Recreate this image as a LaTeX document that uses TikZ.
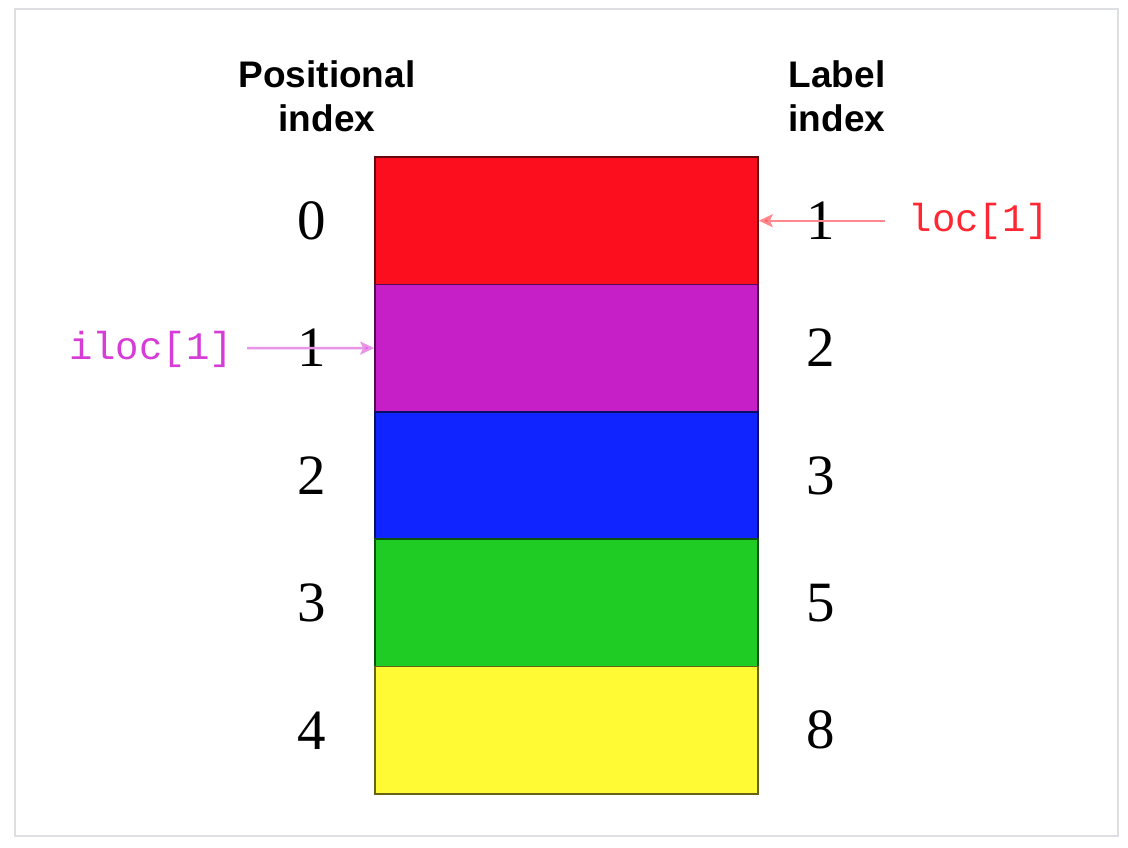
\documentclass[tikz,border=0pt]{standalone}
\usepackage{fontspec}
\setmainfont{Liberation Serif}
\setsansfont{Liberation Sans}
\setmonofont{Liberation Mono}
\usepackage{tikz}
\usetikzlibrary{positioning,arrows.meta}

\definecolor{cellred}{RGB}{252,14,30}
\definecolor{cellmagenta}{RGB}{199,31,199}
\definecolor{cellblue}{RGB}{15,36,255}
\definecolor{cellgreen}{RGB}{31,204,35}
\definecolor{cellyellow}{RGB}{255,250,51}
\definecolor{locred}{RGB}{255,40,50}
\definecolor{ilocmagenta}{RGB}{214,60,214}
\definecolor{framegray}{RGB}{221,223,226}

\begin{document}
\begin{tikzpicture}[
		x=1pt,y=-1pt,
		cell/.style={
		  draw=#1!40!black,
		  fill=#1,
		  line width=1.6pt,
		  minimum width=383pt,
		  minimum height=127.4pt,
		  inner sep=0pt
		  },
		idxnum/.style={
		  font=\fontsize{57}{60}\selectfont,
		  inner sep=0pt
		  },
		header/.style={
		  font=\sffamily\bfseries\fontsize{37}{44}\selectfont,
		  align=center,
		  inner sep=0pt
		  },
		access/.style={
		  font=\ttfamily\fontsize{39}{42}\selectfont,
		  text=#1,
		  inner sep=0pt
		  },
		pointer/.style={
		  draw=#1!55,
		  line width=2.4pt,
		  -{Stealth[length=14pt,width=13pt,inset=3pt,fill=#1!85]}
		  },
		>=latex
		]
		\useasboundingbox (0,0) rectangle (1128,848);
		\draw[framegray, line width=1.5pt] (15,9) rectangle (1118,836);
		% the stacked rows
		\foreach \c [count=\i] in {cellred,cellmagenta,cellblue,cellgreen,cellyellow}
		  \node[cell=\c] (cell-\i) at (566.5, 157+127.4*\i-63.7) {};
		% positional index, left
		\foreach \i [evaluate=\i as \p using int(\i-1)] in {1,...,5}
		  \node[idxnum] (pos-\i) at (312, 157+127.4*\i-63.7) {\p};
		% label index, right
		\foreach \l [count=\i] in {1,2,3,5,8}
		  \node[idxnum] (lab-\i) at (821, 157+127.4*\i-63.7) {\l};
		\node[header] (posh) at (327,96) {Positional\\index};
		\node[header] (labh) at (837,96) {Label\\index};
		% loc and iloc
		\node[access=locred] (loc) at (979,221) {loc[1]};
		\node[access=ilocmagenta] (iloc) at (151,349) {iloc[1]};
		\coordinate (locsrc) at (885,220.7);
		\coordinate (ilocsrc) at (247,348.1);
		\draw[pointer=locred] (locsrc) -- (cell-1.east);
		\draw[pointer=ilocmagenta] (ilocsrc) -- (cell-2.west);
	\end{tikzpicture}
\end{document}
